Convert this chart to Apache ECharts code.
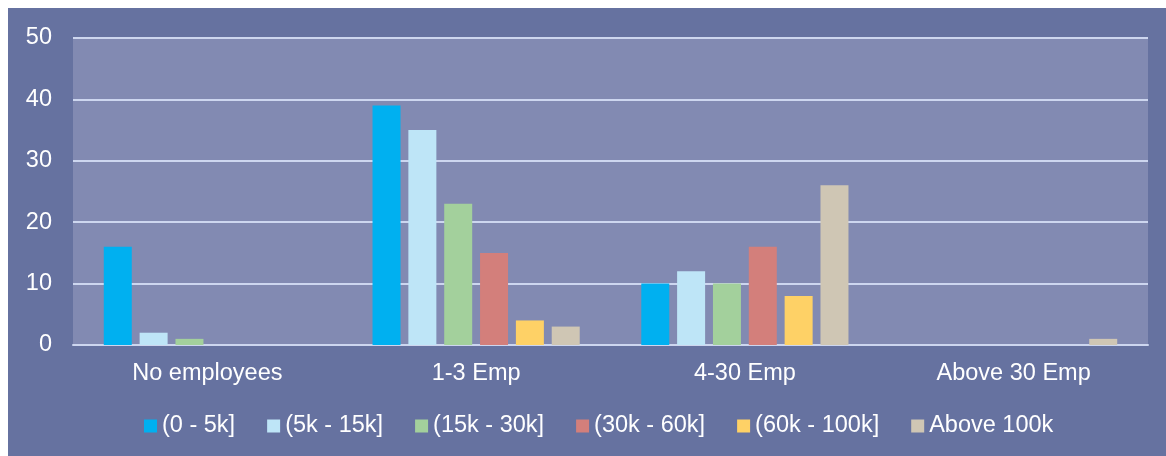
<!DOCTYPE html>
<html>
<head>
<meta charset="utf-8">
<script src="https://cdn.jsdelivr.net/npm/echarts@6/dist/echarts.min.js"></script>
<style>
  html, body { margin: 0; padding: 0; background: #fff; }
  .com-container {
    position: absolute;
    left: 8px;
    top: 8px;
    width: 1158px;
    height: 448px;
    background: #6672a0;
    overflow: hidden;
  }
  .com-chart { width: 100%; height: 100%; }
</style>
</head>
<body>
<div class="com-container">
  <div class="com-chart" id="main"></div>
</div>
<script>
const categories = ['No employees', '1-3 Emp', '4-30 Emp', 'Above 30 Emp']
const seriesNames = ['(0 - 5k]', '(5k - 15k]', '(15k - 30k]', '(30k - 60k]', '(60k - 100k]', 'Above 100k']
const band0to5k = [16, 39, 10, 0]
const band5to15k = [2, 35, 12, 0]
const band15to30k = [1, 23, 10, 0]
const band30to60k = [0, 15, 16, 0]
const band60to100k = [0, 4, 8, 0]
const bandAbove100k = [0, 3, 26, 1]
const yTicks = [0, 10, 20, 30, 40, 50]

const colors = ['#00b0f0', '#bee5f7', '#a3d09c', '#d37f7b', '#fed166', '#cfc6b4']
const allValues = [band0to5k, band5to15k, band15to30k, band30to60k, band60to100k, bandAbove100k]

const chartInstance = echarts.init(document.getElementById('main'))

const textFont = { color: '#ffffff', fontSize: 23.5, fontFamily: 'Liberation Sans, Arial, sans-serif' }

const option = {
  animation: false,
  backgroundColor: 'transparent',
  grid: {
    show: true,
    backgroundColor: '#828ab2',
    borderWidth: 0,
    left: 65,
    right: 18,
    top: 30,
    bottom: 111
  },
  legend: {
    left: 131,
    top: 401,
    itemWidth: 13,
    itemHeight: 13,
    itemGap: 32,
    icon: 'rect',
    textStyle: textFont,
    data: seriesNames
  },
  xAxis: {
    type: 'category',
    data: categories,
    axisLine: { lineStyle: { color: '#cdd6ef', width: 2 } },
    axisTick: { show: false },
    axisLabel: Object.assign({}, textFont, { margin: 17 })
  },
  yAxis: {
    type: 'value',
    min: yTicks[0],
    max: yTicks[yTicks.length - 1],
    interval: 10,
    axisLine: { show: false },
    axisTick: { show: false },
    axisLabel: Object.assign({}, textFont, { margin: 21 }),
    splitLine: { lineStyle: { color: '#cdd6ef', width: 2 } }
  },
  series: seriesNames.map((name, i) => ({
    name: name,
    type: 'bar',
    barWidth: 28,
    barGap: '28%',
    itemStyle: { color: colors[i] },
    data: allValues[i]
  }))
}

chartInstance.setOption(option)
</script>
</body>
</html>
